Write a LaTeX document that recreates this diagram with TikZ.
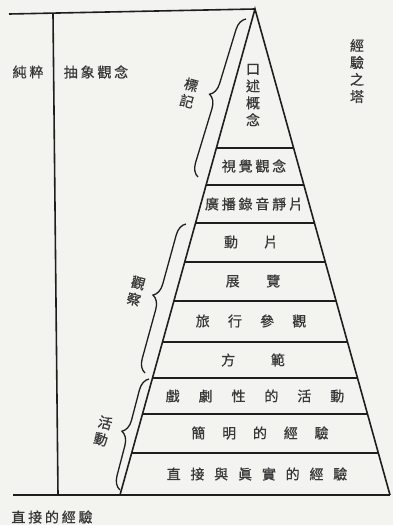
\documentclass[tikz,border=0pt]{standalone}
\usepackage{fontspec}
\newfontfamily\cjk[FakeBold=0.6]{Noto Sans CJK TC}
\usetikzlibrary{calc,decorations.pathreplacing}
\definecolor{paper}{RGB}{243,243,240}
\definecolor{ink}{RGB}{30,30,30}
\definecolor{print}{RGB}{55,55,55}
\newcommand{\sk}[1]{\hspace{#1em}}

\begin{document}
\begin{tikzpicture}
  [x=1pt,y=-1pt,every node/.style={font=\cjk\fontsize{14}{17}\selectfont,text=print,inner sep=0pt}]
  \tikzstyle{edge} = [draw=ink,line width=1.6pt]
  \tikzstyle{rung} = [draw=ink,line width=1.1pt]
  \tikzstyle{curly} = [draw=ink,line width=1.3pt,decorate,decoration={brace,amplitude=13pt}]
  \tikzstyle{side} = [rotate=-15,align=center]
  \fill[paper] (0,0) rectangle (393,525);

  % frame of the tower
  \coordinate (apex) at (255,9);
  \coordinate (bl) at (120,495);
  \coordinate (br) at (390,495);
  \coordinate (roof) at (9,14);
  \coordinate (floor) at (13,495);
  \coordinate (poletop) at (53,14);
  \coordinate (polefoot) at (58,495);
  \draw[edge] (roof) -- (apex);
  \draw[edge] (floor) -- (br);
  \draw[edge] (poletop) -- (polefoot);
  \draw[edge] (bl) -- (apex) -- (br);
\foreach \y in {148,185,223,262,301,342,378,414,453} {
   \pgfmathsetmacro\t{(\y-9)/486}
   \draw[rung] ($(apex)!\t!(bl)$) -- ($(apex)!\t!(br)$);
}

  % steps
  \node (oral) [align=center] at (253,95) {口\\述\\概\\念};
  \node (visual) at (254,166) {視\sk{0.2}覺\sk{0.2}觀\sk{0.2}念};
  \node (radio) at (254,204) {廣\sk{0.2}播\sk{0.2}錄\sk{0.2}音\sk{0.2}靜\sk{0.2}片};
  \node (film) at (251,242) {動\sk{1.85}片};
  \node (exhibit) at (253,281) {展\sk{1.9}覽};
  \node (trip) at (251,321) {旅\sk{1.3}行\sk{1.3}參\sk{1.3}觀};
  \node (demo) at (253,360) {方\sk{2.55}範};
  \node (drama) at (255,396) {戲\sk{1.35}劇\sk{1.35}性\sk{1.35}的\sk{1.35}活\sk{1.35}動};
  \node (contrived) at (260,433) {簡\sk{1.2}明\sk{1.2}的\sk{1.2}經\sk{1.2}驗};
  \node (direct) at (257,474) {直\sk{0.7}接\sk{0.7}與\sk{0.7}眞\sk{0.7}實\sk{0.7}的\sk{0.7}經\sk{0.7}驗};

  % braces and groups
  \coordinate (m1) at (198,177);
  \coordinate (m2) at (246,19);
  \coordinate (w1) at (145,373);
  \coordinate (w2) at (186,224);
  \coordinate (a1) at (120,490);
  \coordinate (a2) at (149,379);
  \draw[curly] (m1) -- (m2);
  \draw[curly] (w1) -- (w2);
  \draw[curly] (a1) -- (a2);
  \node (symbols) [side] at (189,93) {標\\記};
  \node (observe) [side] at (136,291) {觀\\察};
  \node (doing) [side] at (103,431) {活\\動};

  % outside labels
  \node (tower) [align=center] at (357,71) {經\\驗\\之\\塔};
  \node (pure) at (28,72) {純\sk{0.2}粹};
  \node (abstract) at (96,72) {抽\sk{0.2}象\sk{0.2}觀\sk{0.2}念};
  \node (base) at (52,517) {直\sk{0.2}接\sk{0.2}的\sk{0.2}經\sk{0.2}驗};
\end{tikzpicture}
\end{document}
